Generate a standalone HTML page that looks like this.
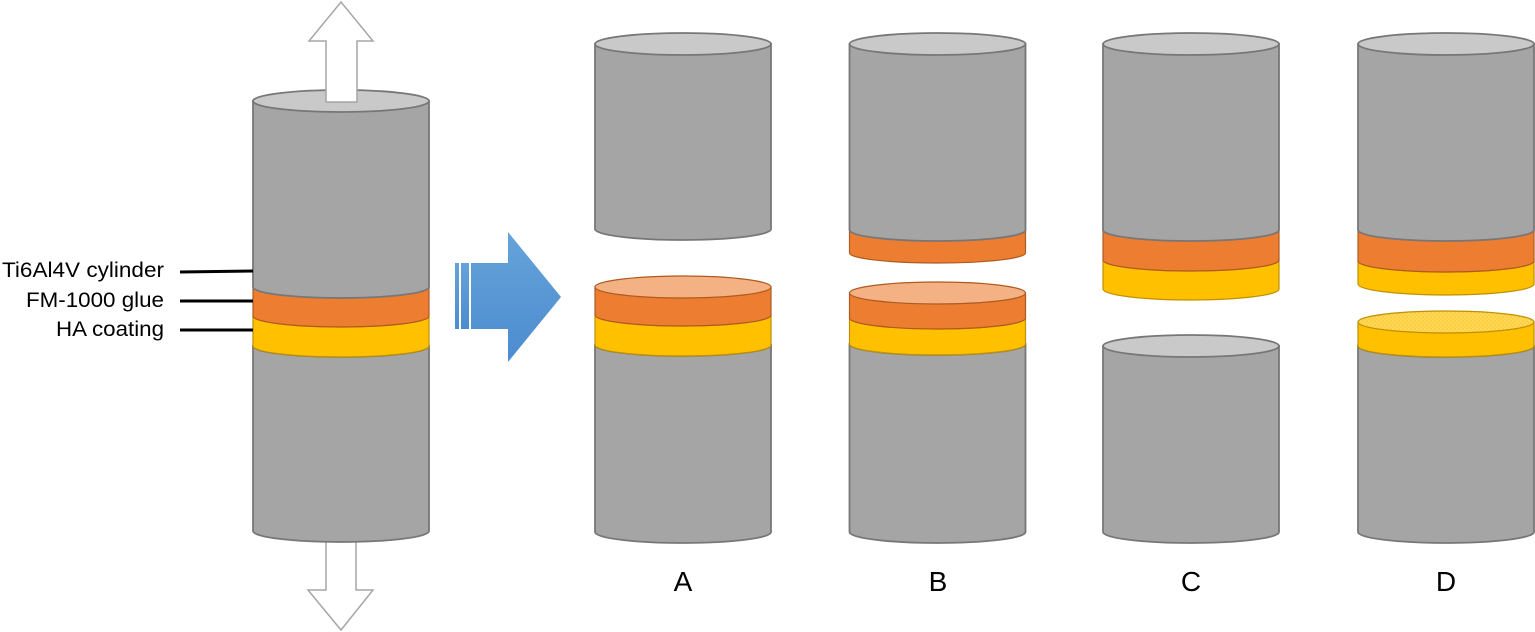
<!DOCTYPE html>
<html>
<head>
<meta charset="utf-8">
<style>
  html,body{margin:0;padding:0;background:#fff;}
  body{width:1535px;height:632px;overflow:hidden;}
  svg{display:block;}
  text{font-family:"Liberation Sans", sans-serif;fill:#000;}
</style>
</head>
<body>
<svg width="1535" height="632" viewBox="0 0 1535 632" xmlns="http://www.w3.org/2000/svg">
  <defs>
    <linearGradient id="blue" x1="0" y1="0" x2="0" y2="1">
      <stop offset="0" stop-color="#66A3DA"/>
      <stop offset="1" stop-color="#4C8BCF"/>
    </linearGradient>
    <pattern id="dots" width="4" height="4" patternUnits="userSpaceOnUse">
      <rect width="4" height="4" fill="#FFD043"/>
      <circle cx="1" cy="1" r="0.6" fill="#FFEFA8"/>
      <circle cx="3" cy="3" r="0.6" fill="#FFE98A"/>
      <circle cx="3" cy="1" r="0.4" fill="#F2B400"/>
    </pattern>
  </defs>

  <!-- ===== Left assembly (cx 341) ===== -->
  <path d="M326 530 L326 590 L308 590 L341 630 L373 590 L356 590 L356 530 Z" fill="#fff" stroke="#A6A6A6" stroke-width="1.5"/>
  <path d="M253 346 L253 531 A88 11 0 0 0 429 531 L429 346 Z" fill="#A5A5A5" stroke="#777" stroke-width="1.8"/>
  <ellipse cx="341" cy="346" rx="88" ry="11" fill="#C9C9C9" stroke="#777" stroke-width="1.8"/>
  <path d="M253 316 L253 346 A88 11 0 0 0 429 346 L429 316 Z" fill="#FFC000" stroke="#BF9000" stroke-width="1.2"/>
  <ellipse cx="341" cy="316" rx="88" ry="11" fill="#FFD966" stroke="#BF9000" stroke-width="1.2"/>
  <path d="M253 287 L253 316 A88 11 0 0 0 429 316 L429 287 Z" fill="#ED7D31" stroke="#AE5A21" stroke-width="1.2"/>
  <ellipse cx="341" cy="287" rx="88" ry="11" fill="#F4B183" stroke="#AE5A21" stroke-width="1.2"/>
  <path d="M253 101 L253 287 A88 11 0 0 0 429 287 L429 101 Z" fill="#A5A5A5" stroke="#777" stroke-width="1.8"/>
  <ellipse cx="341" cy="101" rx="88" ry="11" fill="#C9C9C9" stroke="#777" stroke-width="1.8"/>
  <path d="M326 102 L326 41 L309 41 L341 2 L373 41 L357 41 L357 102 Z" fill="#fff" stroke="#A6A6A6" stroke-width="1.5"/>

  <!-- labels -->
  <line x1="180" y1="272" x2="253" y2="271" stroke="#000" stroke-width="3"/>
  <line x1="180" y1="301" x2="253" y2="301" stroke="#000" stroke-width="3"/>
  <line x1="180" y1="330" x2="253" y2="330" stroke="#000" stroke-width="3"/>
  <text x="2" y="277" font-size="21" textLength="162" lengthAdjust="spacingAndGlyphs">Ti6Al4V cylinder</text>
  <text x="26" y="307" font-size="21" textLength="138" lengthAdjust="spacingAndGlyphs">FM-1000 glue</text>
  <text x="56" y="336" font-size="21" textLength="108" lengthAdjust="spacingAndGlyphs">HA coating</text>

  <!-- ===== Blue arrow ===== -->
  <rect x="455" y="263" width="4" height="66" fill="url(#blue)"/>
  <rect x="461" y="263" width="8" height="66" fill="url(#blue)"/>
  <path d="M471 263 L508 263 L508 232 L561 297 L508 362 L508 329 L471 329 Z" fill="url(#blue)"/>

  <!-- ===== A (cx 683) ===== -->
  <path d="M595 44 L595 229 A88 11 0 0 0 771 229 L771 44 Z" fill="#A5A5A5" stroke="#777" stroke-width="1.8"/>
  <ellipse cx="683" cy="44" rx="88" ry="11" fill="#C9C9C9" stroke="#777" stroke-width="1.8"/>

  <path d="M595 345 L595 532 A88 11 0 0 0 771 532 L771 345 Z" fill="#A5A5A5" stroke="#777" stroke-width="1.8"/>
  <ellipse cx="683" cy="345" rx="88" ry="11" fill="#C9C9C9" stroke="#777" stroke-width="1.8"/>
  <path d="M595 315 L595 345 A88 11 0 0 0 771 345 L771 315 Z" fill="#FFC000" stroke="#BF9000" stroke-width="1.2"/>
  <ellipse cx="683" cy="315" rx="88" ry="11" fill="#FFD966" stroke="#BF9000" stroke-width="1.2"/>
  <path d="M595 287 L595 315 A88 11 0 0 0 771 315 L771 287 Z" fill="#ED7D31" stroke="#AE5A21" stroke-width="1.2"/>
  <ellipse cx="683" cy="287" rx="88" ry="11" fill="#F4B183" stroke="#AE5A21" stroke-width="1.2"/>

  <!-- ===== B (cx 937.5) ===== -->
  <path d="M849.5 230 L849.5 253 A88 10 0 0 0 1025.5 253 L1025.5 230 Z" fill="#ED7D31" stroke="#AE5A21" stroke-width="1.2"/>
  <ellipse cx="937.5" cy="230" rx="88" ry="11" fill="#F4B183" stroke="#AE5A21" stroke-width="1.2"/>
  <path d="M849.5 44 L849.5 230 A88 11 0 0 0 1025.5 230 L1025.5 44 Z" fill="#A5A5A5" stroke="#777" stroke-width="1.8"/>
  <ellipse cx="937.5" cy="44" rx="88" ry="11" fill="#C9C9C9" stroke="#777" stroke-width="1.8"/>

  <path d="M849.5 344 L849.5 532 A88 11 0 0 0 1025.5 532 L1025.5 344 Z" fill="#A5A5A5" stroke="#777" stroke-width="1.8"/>
  <ellipse cx="937.5" cy="344" rx="88" ry="11" fill="#C9C9C9" stroke="#777" stroke-width="1.8"/>
  <path d="M849.5 318 L849.5 344 A88 11 0 0 0 1025.5 344 L1025.5 318 Z" fill="#FFC000" stroke="#BF9000" stroke-width="1.2"/>
  <ellipse cx="937.5" cy="318" rx="88" ry="11" fill="#FFD966" stroke="#BF9000" stroke-width="1.2"/>
  <path d="M849.5 293 L849.5 318 A88 11 0 0 0 1025.5 318 L1025.5 293 Z" fill="#ED7D31" stroke="#AE5A21" stroke-width="1.2"/>
  <ellipse cx="937.5" cy="293" rx="88" ry="11" fill="#F4B183" stroke="#AE5A21" stroke-width="1.2"/>

  <!-- ===== C (cx 1191) ===== -->
  <path d="M1103 260 L1103 289 A88 11 0 0 0 1279 289 L1279 260 Z" fill="#FFC000" stroke="#BF9000" stroke-width="1.2"/>
  <ellipse cx="1191" cy="260" rx="88" ry="11" fill="#FFD966" stroke="#BF9000" stroke-width="1.2"/>
  <path d="M1103 230 L1103 260 A88 11 0 0 0 1279 260 L1279 230 Z" fill="#ED7D31" stroke="#AE5A21" stroke-width="1.2"/>
  <ellipse cx="1191" cy="230" rx="88" ry="11" fill="#F4B183" stroke="#AE5A21" stroke-width="1.2"/>
  <path d="M1103 44 L1103 230 A88 11 0 0 0 1279 230 L1279 44 Z" fill="#A5A5A5" stroke="#777" stroke-width="1.8"/>
  <ellipse cx="1191" cy="44" rx="88" ry="11" fill="#C9C9C9" stroke="#777" stroke-width="1.8"/>

  <path d="M1103 346 L1103 532 A88 11 0 0 0 1279 532 L1279 346 Z" fill="#A5A5A5" stroke="#777" stroke-width="1.8"/>
  <ellipse cx="1191" cy="346" rx="88" ry="11" fill="#C9C9C9" stroke="#777" stroke-width="1.8"/>

  <!-- ===== D (cx 1446) ===== -->
  <path d="M1358 261 L1358 284 A88 11 0 0 0 1534 284 L1534 261 Z" fill="#FFC000" stroke="#BF9000" stroke-width="1.2"/>
  <ellipse cx="1446" cy="261" rx="88" ry="11" fill="#FFD966" stroke="#BF9000" stroke-width="1.2"/>
  <path d="M1358 230 L1358 261 A88 11 0 0 0 1534 261 L1534 230 Z" fill="#ED7D31" stroke="#AE5A21" stroke-width="1.2"/>
  <ellipse cx="1446" cy="230" rx="88" ry="11" fill="#F4B183" stroke="#AE5A21" stroke-width="1.2"/>
  <path d="M1358 44 L1358 230 A88 11 0 0 0 1534 230 L1534 44 Z" fill="#A5A5A5" stroke="#777" stroke-width="1.8"/>
  <ellipse cx="1446" cy="44" rx="88" ry="11" fill="#C9C9C9" stroke="#777" stroke-width="1.8"/>

  <path d="M1358 346 L1358 532 A88 11 0 0 0 1534 532 L1534 346 Z" fill="#A5A5A5" stroke="#777" stroke-width="1.8"/>
  <ellipse cx="1446" cy="346" rx="88" ry="11" fill="#C9C9C9" stroke="#777" stroke-width="1.8"/>
  <path d="M1358 322 L1358 346 A88 11 0 0 0 1534 346 L1534 322 Z" fill="#FFC000" stroke="#BF9000" stroke-width="1.2"/>
  <ellipse cx="1446" cy="322" rx="88" ry="11" fill="url(#dots)" stroke="#BF9000" stroke-width="1.2"/>

  <!-- ===== Letters ===== -->
  <text x="683" y="591" font-size="28" text-anchor="middle">A</text>
  <text x="938" y="591" font-size="28" text-anchor="middle">B</text>
  <text x="1191" y="591" font-size="28" text-anchor="middle">C</text>
  <text x="1446" y="591" font-size="28" text-anchor="middle">D</text>
</svg>
</body>
</html>
